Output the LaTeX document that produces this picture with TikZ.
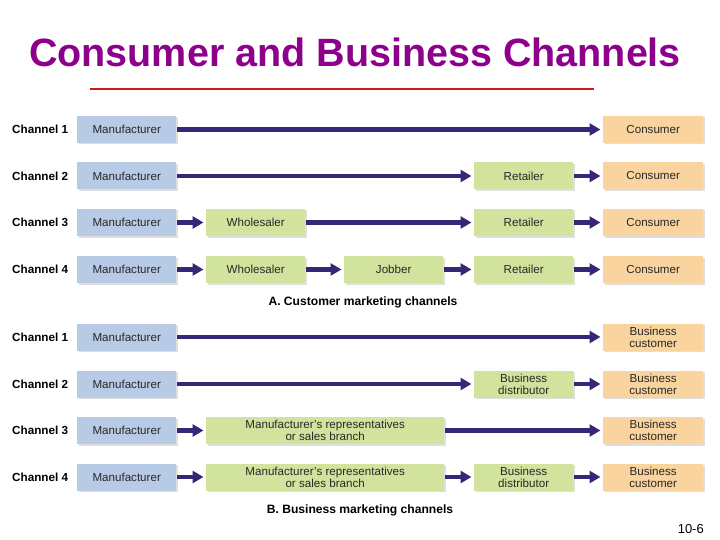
\documentclass[tikz,border=0pt]{standalone}
\usepackage{fontspec}
\setmainfont{Liberation Sans}
\usetikzlibrary{arrows.meta,shadows}
\definecolor{bluebox}{RGB}{184,203,230}
\definecolor{greenbox}{RGB}{210,227,158}
\definecolor{orangebox}{RGB}{250,212,158}
\definecolor{arrowc}{RGB}{55,38,118}
\definecolor{titlec}{RGB}{140,0,140}
\definecolor{rulec}{RGB}{205,25,30}
\definecolor{txtc}{RGB}{40,40,40}
\begin{document}
\begin{tikzpicture}[x=1pt,y=-1pt,
  box/.style={minimum width=99pt, minimum height=27pt, inner sep=0pt, anchor=west,
    font=\fontsize{11.6}{12}\selectfont, text=txtc, align=center,
    drop shadow={shadow xshift=1.5pt, shadow yshift=-1.5pt, opacity=0.25, fill=gray}},
  mbox/.style={box, fill=bluebox},
  gbox/.style={box, fill=greenbox},
  wbox/.style={gbox, minimum width=238pt},
  obox/.style={box, fill=orangebox, minimum width=100pt},
  chlab/.style={anchor=west, inner sep=0pt, font=\bfseries\fontsize{11.7}{13}\selectfont},
  caption/.style={inner sep=0pt, font=\bfseries\fontsize{12.1}{13}\selectfont},
  arr/.style={draw=arrowc, line width=4.2pt, -{Triangle[length=11pt,width=12pt]},
    shorten <=1pt, shorten >=2.5pt}
]
\useasboundingbox (0,0) rectangle (720,540);
\fill[white] (0,0) rectangle (720,540);

% title
\node[inner sep=0pt, text=titlec, font=\bfseries\fontsize{39.5}{42}\selectfont] (title) at (355,52) {Consumer and Business Channels};
\draw[rulec, line width=2.8pt] (90,89) -- (594,89);

% ---- A. consumer channels
\foreach \i/\y in {1/129.5,2/176,3/222.5,4/269.5}{
  \node[chlab] (ca\i) at (12,\y) {Channel \i};
  \node[mbox] (ma\i) at (77,\y) {Manufacturer};
  \node[obox] (oa\i) at (603,\y) {Consumer};
}
\node[gbox] (ra2) at (474,176) {Retailer};
\node[gbox] (wa3) at (206,222.5) {Wholesaler};
\node[gbox] (ra3) at (474,222.5) {Retailer};
\node[gbox] (wa4) at (206,269.5) {Wholesaler};
\node[gbox] (ja4) at (344,269.5) {Jobber};
\node[gbox] (ra4) at (474,269.5) {Retailer};

\draw[arr] (ma1) -- (oa1);
\draw[arr] (ma2) -- (ra2);
\draw[arr] (ra2) -- (oa2);
\draw[arr] (ma3) -- (wa3);
\draw[arr] (wa3) -- (ra3);
\draw[arr] (ra3) -- (oa3);
\draw[arr] (ma4) -- (wa4);
\draw[arr] (wa4) -- (ja4);
\draw[arr] (ja4) -- (ra4);
\draw[arr] (ra4) -- (oa4);

\node[caption] (capA) at (363,302.5) {A. Customer marketing channels};

% ---- B. business channels
\foreach \i/\y in {1/337,2/384,3/430.5,4/477}{
  \node[chlab] (cb\i) at (12,\y) {Channel \i};
  \node[mbox] (mb\i) at (77,\y) {Manufacturer};
  \node[obox] (ob\i) at (603,\y) {Business\\customer};
}
\node[gbox] (db2) at (474,384) {Business\\distributor};
\node[wbox] (rb3) at (206,430.5) {Manufacturer’s representatives\\or sales branch};
\node[wbox] (rb4) at (206,477) {Manufacturer’s representatives\\or sales branch};
\node[gbox] (db4) at (474,477) {Business\\distributor};

\draw[arr] (mb1) -- (ob1);
\draw[arr] (mb2) -- (db2);
\draw[arr] (db2) -- (ob2);
\draw[arr] (mb3) -- (rb3);
\draw[arr] (rb3) -- (ob3);
\draw[arr] (mb4) -- (rb4);
\draw[arr] (rb4) -- (db4);
\draw[arr] (db4) -- (ob4);

\node[caption] (capB) at (360,510) {B. Business marketing channels};

\node[inner sep=0pt, anchor=east, font=\fontsize{13}{14}\selectfont] (pg) at (704,529) {10-6};
\end{tikzpicture}
\end{document}
